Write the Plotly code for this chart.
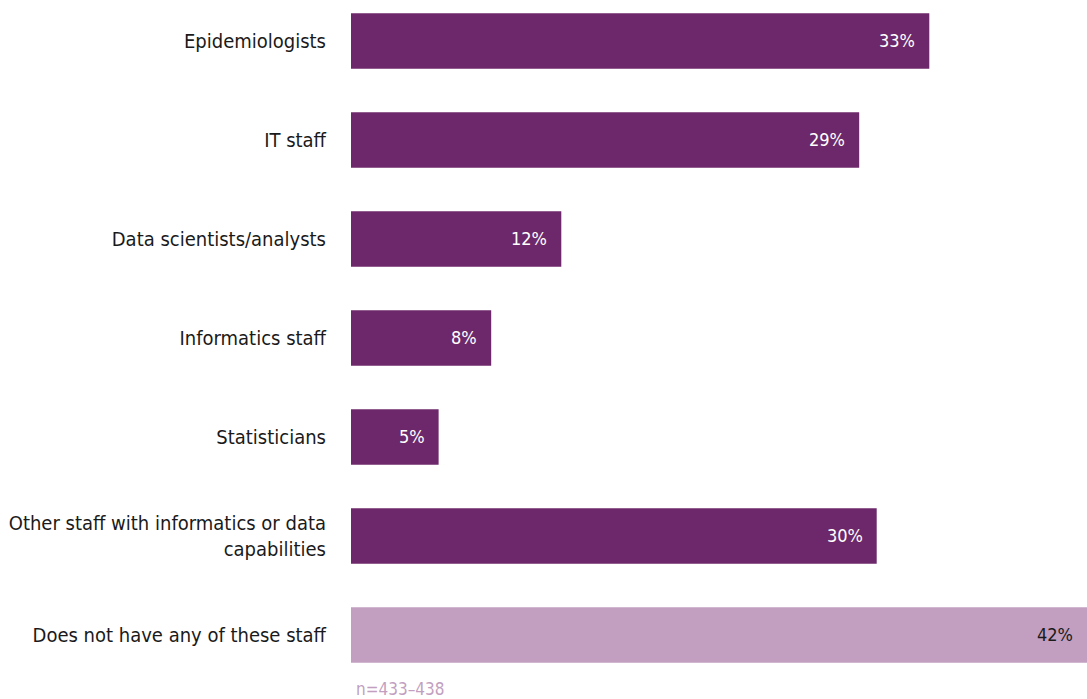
import plotly.graph_objects as go

# Share of agencies reporting each staff type (percent)
categories = [
    "Epidemiologists",
    "IT staff",
    "Data scientists/analysts",
    "Informatics staff",
    "Statisticians",
    "Other staff with informatics or data<br>capabilities",
    "Does not have any of these staff",
]
values = [33, 29, 12, 8, 5, 30, 42]
value_labels = ["33%", "29%", "12%", "8%", "5%", "30%", "42%"]
sample_note = "n=433\u2013438"

DARK = "#6C286A"
LIGHT = "#C29FC0"
FONT = "DejaVu Sans Condensed, Liberation Sans Narrow, Roboto Condensed, sans-serif"

bar_colors = [DARK] * 6 + [LIGHT]
text_colors = ["white"] * 6 + ["#1a1a1a"]

fig = go.Figure(
    go.Bar(
        x=values,
        y=categories,
        orientation="h",
        marker=dict(color=bar_colors, line=dict(width=0)),
        width=0.56,
        hoverinfo="skip",
    )
)

# Value labels sit just inside the end of each bar
value_annotations = [
    dict(
        x=v,
        y=c,
        xref="x",
        yref="y",
        text=t,
        xanchor="right",
        yanchor="middle",
        xshift=-12,
        showarrow=False,
        font=dict(family=FONT, size=18, color=tc),
    )
    for v, c, t, tc in zip(values, categories, value_labels, text_colors)
]

fig.update_layout(
    width=1087,
    height=699,
    margin=dict(l=351, r=0, t=0, b=15),
    paper_bgcolor="white",
    plot_bgcolor="white",
    showlegend=False,
    font=dict(family=FONT, size=20, color="#1a1a1a"),
    xaxis=dict(
        range=[0, 42],
        visible=False,
        showgrid=False,
        zeroline=False,
    ),
    yaxis=dict(
        type="category",
        range=[6.495, -0.414],
        showgrid=False,
        zeroline=False,
        showline=False,
        ticks="",
        ticklabelstandoff=24,
        tickfont=dict(family=FONT, size=20, color="#1a1a1a"),
    ),
    annotations=value_annotations
    + [
        dict(
            text=sample_note,
            xref="paper",
            yref="paper",
            x=0,
            y=0,
            xanchor="left",
            yanchor="middle",
            xshift=3,
            yshift=-5,
            showarrow=False,
            font=dict(family=FONT, size=17, color=LIGHT),
        )
    ],
)

fig.write_html("out.html")
